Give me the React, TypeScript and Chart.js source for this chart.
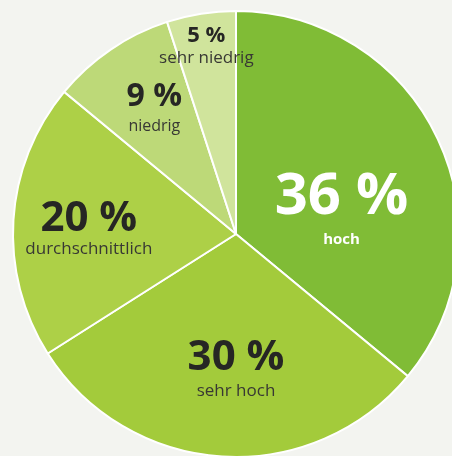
import React, { useEffect, useRef } from "react";
import { Chart, registerables } from "chart.js";

Chart.register(...registerables);

const categories = ["hoch", "sehr hoch", "durchschnittlich", "niedrig", "sehr niedrig"];
const values = [36, 30, 20, 9, 5];
const valueLabels = ["36 %", "30 %", "20 %", "9 %", "5 %"];

const colors = ["#80bc36", "#a3cb3b", "#add047", "#bdd978", "#d0e49c"];
const labelRadius = [0.478, 0.63, 0.66, 0.66, 0.85];
const labelAngleShift = [17, -3.6, -3.5, 0.5, 0];
const valueFont = [58, 42, 42, 32, 22];
const nameFont = [15, 17, 17, 16, 17];
const nameBold = [true, false, false, false, false];
const textColor = ["#ffffff", "#262624", "#262624", "#262624", "#262624"];
const nameColor = ["#ffffff", "#383834", "#383834", "#383834", "#383834"];
const gap = [42, 33, 30, 29, 23];

const labelPlugin = {
  id: "sliceLabels",
  afterDatasetsDraw(chart: any) {
    const ctx = chart.ctx;
    const meta = chart.getDatasetMeta(0);
    meta.data.forEach((arc: any, i: number) => {
      const { x, y, startAngle, endAngle, outerRadius } = arc.getProps(
        ["x", "y", "startAngle", "endAngle", "outerRadius"],
        true
      );
      const mid = (startAngle + endAngle) / 2 + (labelAngleShift[i] * Math.PI) / 180;
      const r = outerRadius * labelRadius[i];
      const cx = x + Math.cos(mid) * r;
      const cy = y + Math.sin(mid) * r;
      ctx.save();
      ctx.textAlign = "center";
      ctx.textBaseline = "middle";
      ctx.fillStyle = textColor[i];
      ctx.font = `bold ${valueFont[i]}px "Open Sans", sans-serif`;
      ctx.fillText(valueLabels[i], cx, cy - gap[i] / 2);
      ctx.fillStyle = nameColor[i];
      ctx.font = `${nameBold[i] ? "bold " : ""}${nameFont[i]}px "Open Sans", sans-serif`;
      ctx.fillText(categories[i], cx, cy + gap[i] / 2);
      ctx.restore();
    });
  },
};

export default function App() {
  const ref = useRef<HTMLCanvasElement>(null);
  useEffect(() => {
    document.body.style.margin = "0";
    document.body.style.overflow = "hidden";
    const chart = new Chart(ref.current!, {
      type: "pie",
      data: {
        labels: categories,
        datasets: [
          {
            data: values,
            backgroundColor: colors,
            borderColor: "#ffffff",
            borderWidth: 2,
          },
        ],
      },
      options: {
        animation: false,
        responsive: false,
        layout: { padding: { left: 12, right: 12, top: 10, bottom: 10 } },
        plugins: {
          legend: { display: false },
          tooltip: { enabled: false },
        },
      },
      plugins: [labelPlugin],
    });
    return () => chart.destroy();
  }, []);
  return (
    <div
      style={{
        position: "fixed",
        left: 0,
        top: 0,
        width: 452,
        height: 456,
        overflow: "hidden",
        background: "#f3f4f0",
      }}
    >
      <canvas ref={ref} width={472} height={468} style={{ position: "absolute", left: 0, top: 0 }} />
    </div>
  );
}
